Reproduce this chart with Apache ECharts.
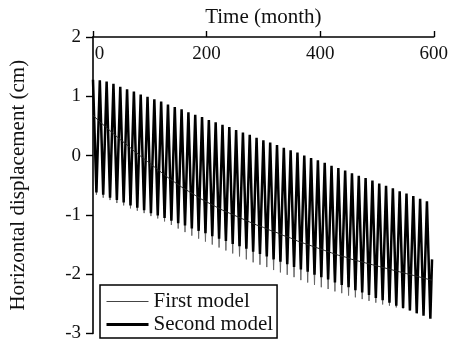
<!DOCTYPE html>
<html>
<head>
<meta charset="utf-8">
<script src="https://cdn.jsdelivr.net/npm/echarts@6/dist/echarts.min.js"></script>
<style>
html,body{margin:0;padding:0;background:#fff;}
#chart{width:451px;height:343px;}
</style>
</head>
<body>
<div id="chart"></div>
<script>
// Annual cycle: peaks at month 12k, troughs at month 12k+6
const cycleLength = 12;
const xTicks = [0, 200, 400, 600];
const yTicks = [-3, -2, -1, 0, 1, 2];

// Second model (thick line): yearly peak and trough values (cm)
const secondPeaks = [1.28, 1.27, 1.25, 1.21, 1.16, 1.12, 1.08, 1.03, 0.99, 0.95,
  0.91, 0.86, 0.82, 0.78, 0.73, 0.69, 0.65, 0.60, 0.56, 0.52,
  0.48, 0.43, 0.39, 0.35, 0.30, 0.26, 0.22, 0.18, 0.13, 0.09,
  0.05, 0.00, -0.04, -0.08, -0.12, -0.17, -0.21, -0.25, -0.30, -0.34,
  -0.38, -0.42, -0.47, -0.51, -0.55, -0.60, -0.64, -0.68, -0.73, -0.77];
const secondTroughs = [-0.62, -0.66, -0.71, -0.75, -0.79, -0.84, -0.88, -0.92, -0.97, -1.01,
  -1.05, -1.10, -1.14, -1.18, -1.23, -1.27, -1.31, -1.36, -1.40, -1.44,
  -1.49, -1.53, -1.57, -1.62, -1.66, -1.70, -1.75, -1.79, -1.83, -1.88,
  -1.92, -1.96, -2.01, -2.05, -2.09, -2.14, -2.18, -2.22, -2.27, -2.31,
  -2.35, -2.40, -2.44, -2.48, -2.53, -2.57, -2.61, -2.66, -2.70, -2.75];
const secondEnd = [597, -1.75];

// First model (thin line): yearly peak and trough values (cm), peaks hidden under the thick line
const firstPeaks = [1.25, 1.24, 1.22, 1.18, 1.13, 1.09, 1.05, 1.00, 0.96, 0.92,
  0.88, 0.83, 0.79, 0.75, 0.70, 0.66, 0.62, 0.57, 0.53, 0.49,
  0.45, 0.40, 0.36, 0.32, 0.27, 0.23, 0.19, 0.15, 0.10, 0.06,
  0.02, -0.03, -0.07, -0.11, -0.15, -0.20, -0.24, -0.28, -0.33, -0.37,
  -0.41, -0.45, -0.50, -0.54, -0.58, -0.63, -0.67, -0.71, -0.76, -0.80];
const firstTroughs = [-0.66, -0.71, -0.75, -0.80, -0.84, -0.89, -0.93, -0.97, -1.02, -1.06,
  -1.11, -1.17, -1.23, -1.29, -1.35, -1.40, -1.45, -1.50, -1.55, -1.60,
  -1.65, -1.70, -1.75, -1.80, -1.84, -1.88, -1.93, -1.97, -2.01, -2.05,
  -2.10, -2.14, -2.18, -2.22, -2.25, -2.29, -2.32, -2.36, -2.39, -2.42,
  -2.45, -2.48, -2.51, -2.53, -2.56, -2.58, -2.61, -2.63, -2.66, -2.68];
const firstEnd = [597, -1.80];

// Smooth mean curve drawn as a thin line through the oscillations (cm), yearly values
const meanCurve = [0.68, 0.57, 0.47, 0.37, 0.27, 0.18, 0.08, -0.01, -0.10, -0.19,
  -0.28, -0.37, -0.45, -0.53, -0.60, -0.67, -0.74, -0.80, -0.86, -0.92,
  -0.97, -1.02, -1.07, -1.12, -1.17, -1.21, -1.26, -1.30, -1.35, -1.39,
  -1.44, -1.48, -1.52, -1.56, -1.60, -1.64, -1.68, -1.71, -1.75, -1.78,
  -1.81, -1.84, -1.87, -1.90, -1.93, -1.96, -1.99, -2.02, -2.05, -2.08];
const meanEnd = [597, -2.10];

function zigzag(peaks, troughs, end) {
  const out = [];
  for (let k = 0; k < peaks.length; k++) {
    out.push([k * cycleLength, peaks[k]]);
    out.push([k * cycleLength + cycleLength / 2, troughs[k]]);
  }
  out.push(end);
  return out;
}
function yearly(values, end) {
  const out = values.map((v, k) => [k * cycleLength, v]);
  out.push(end);
  return out;
}

const serif = 'Liberation Serif';
const chart = echarts.init(document.getElementById('chart'), null, {renderer: 'canvas'});
chart.setOption({
  animation: false,
  backgroundColor: '#fff',
  grid: {left: 93, right: 17, top: 37, bottom: 6, containLabel: false},
  xAxis: {
    type: 'value', position: 'top', min: xTicks[0], max: xTicks[xTicks.length - 1], interval: 200,
    name: 'Time (month)', nameLocation: 'middle', nameGap: 9,
    nameTextStyle: {fontFamily: serif, fontSize: 21, color: '#111'},
    axisLine: {show: true, onZero: false, lineStyle: {color: '#000', width: 1.6}},
    axisTick: {show: true, inside: false, length: 6, lineStyle: {color: '#000', width: 1.4}},
    axisLabel: {
      inside: true, margin: 8, color: '#111', fontFamily: serif, fontSize: 19,
      formatter: v => v === 0 ? '{z|0}' : String(v),
      rich: {z: {padding: [0, 0, 0, 13], fontFamily: serif, fontSize: 19, color: '#111'}}
    },
    splitLine: {show: false}
  },
  yAxis: {
    type: 'value', min: yTicks[0], max: yTicks[yTicks.length - 1], interval: 1,
    name: 'Horizontal displacement (cm)', nameLocation: 'middle', nameGap: 64, nameRotate: 90,
    nameTextStyle: {fontFamily: serif, fontSize: 21, color: '#111'},
    axisLine: {show: true, onZero: false, lineStyle: {color: '#000', width: 1.6}},
    axisTick: {show: true, inside: false, length: 7, lineStyle: {color: '#000', width: 1.4}},
    axisLabel: {margin: 12, color: '#111', fontFamily: serif, fontSize: 19},
    splitLine: {show: false}
  },
  legend: {
    data: [
      {name: 'First model', lineStyle: {color: '#444', width: 1}},
      {name: 'Second model', lineStyle: {color: '#000', width: 3}}
    ],
    orient: 'vertical', left: 100, top: 285,
    padding: [6, 4, 3, 5], itemGap: 2, itemWidth: 42, itemHeight: 14,
    borderColor: '#000', borderWidth: 1.5, borderRadius: 0, backgroundColor: '#fff',
    itemStyle: {opacity: 0},
    textStyle: {fontFamily: serif, fontSize: 21, color: '#111', lineHeight: 20}
  },
  series: [
    {
      name: 'Second model', type: 'line', symbol: 'none', z: 3,
      data: zigzag(secondPeaks, secondTroughs, secondEnd),
      lineStyle: {color: '#000', width: 2.5}, itemStyle: {color: '#000'}
    },
    {
      name: 'First model', type: 'line', symbol: 'none', z: 2,
      data: zigzag(firstPeaks, firstTroughs, firstEnd),
      lineStyle: {color: '#666', width: 1}, itemStyle: {color: '#666'}
    },
    {
      name: 'Mean curve', type: 'line', symbol: 'none', z: 4,
      data: yearly(meanCurve, meanEnd),
      lineStyle: {color: '#222', width: 1}, itemStyle: {color: '#222'}
    }
  ]
});
</script>
</body>
</html>
